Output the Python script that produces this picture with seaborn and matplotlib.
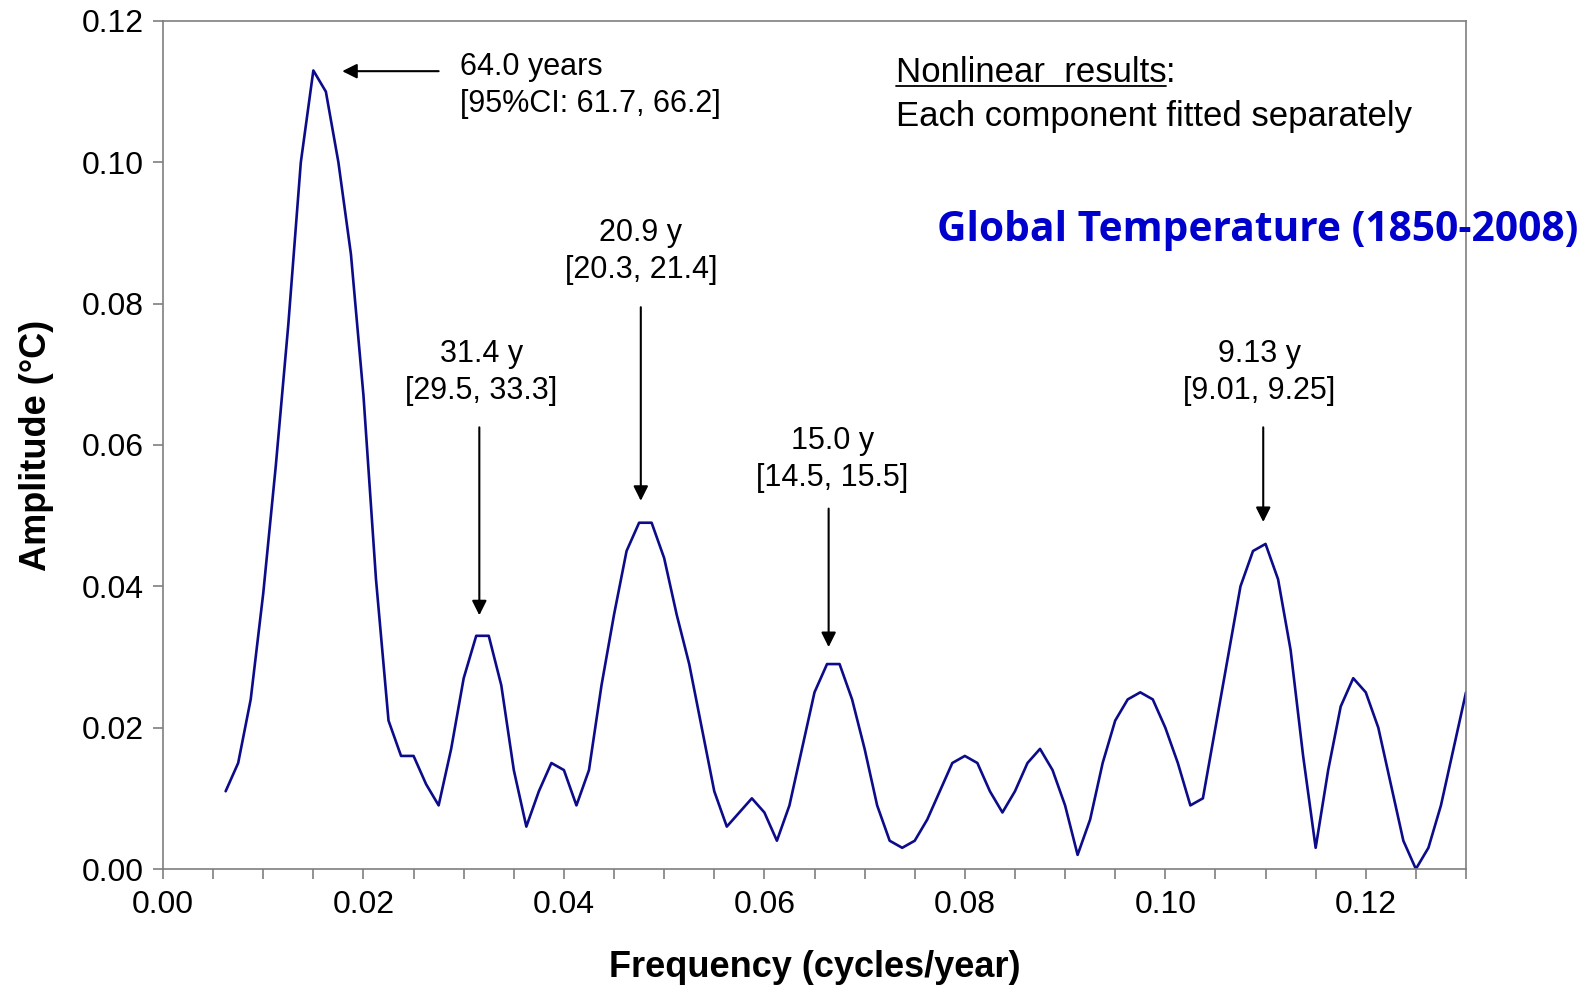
import numpy as np
import pandas as pd
import matplotlib
matplotlib.use("Agg")
import matplotlib.pyplot as plt
import seaborn as sns

# ---------------- data ----------------
frequency = [0.00625, 0.00750, 0.00875, 0.01000, 0.01125, 0.01250, 0.01375, 0.01500, 0.01625, 0.01750,
             0.01875, 0.02000, 0.02125, 0.02250, 0.02375, 0.02500, 0.02625, 0.02750, 0.02875, 0.03000,
             0.03125, 0.03250, 0.03375, 0.03500, 0.03625, 0.03750, 0.03875, 0.04000, 0.04125, 0.04250,
             0.04375, 0.04500, 0.04625, 0.04750, 0.04875, 0.05000, 0.05125, 0.05250, 0.05375, 0.05500,
             0.05625, 0.05750, 0.05875, 0.06000, 0.06125, 0.06250, 0.06375, 0.06500, 0.06625, 0.06750,
             0.06875, 0.07000, 0.07125, 0.07250, 0.07375, 0.07500, 0.07625, 0.07750, 0.07875, 0.08000,
             0.08125, 0.08250, 0.08375, 0.08500, 0.08625, 0.08750, 0.08875, 0.09000, 0.09125, 0.09250,
             0.09375, 0.09500, 0.09625, 0.09750, 0.09875, 0.10000, 0.10125, 0.10250, 0.10375, 0.10500,
             0.10625, 0.10750, 0.10875, 0.11000, 0.11125, 0.11250, 0.11375, 0.11500, 0.11625, 0.11750,
             0.11875, 0.12000, 0.12125, 0.12250, 0.12375, 0.12500, 0.12625, 0.12750, 0.12875, 0.13000]

amplitude = [0.011, 0.015, 0.024, 0.039, 0.057, 0.077, 0.100, 0.113, 0.110, 0.100,
             0.087, 0.067, 0.041, 0.021, 0.016, 0.016, 0.012, 0.009, 0.017, 0.027,
             0.033, 0.033, 0.026, 0.014, 0.006, 0.011, 0.015, 0.014, 0.009, 0.014,
             0.026, 0.036, 0.045, 0.049, 0.049, 0.044, 0.036, 0.029, 0.020, 0.011,
             0.006, 0.008, 0.010, 0.008, 0.004, 0.009, 0.017, 0.025, 0.029, 0.029,
             0.024, 0.017, 0.009, 0.004, 0.003, 0.004, 0.007, 0.011, 0.015, 0.016,
             0.015, 0.011, 0.008, 0.011, 0.015, 0.017, 0.014, 0.009, 0.002, 0.007,
             0.015, 0.021, 0.024, 0.025, 0.024, 0.020, 0.015, 0.009, 0.010, 0.020,
             0.030, 0.040, 0.045, 0.046, 0.041, 0.031, 0.016, 0.003, 0.014, 0.023,
             0.027, 0.025, 0.020, 0.012, 0.004, 0.000, 0.003, 0.009, 0.017, 0.025]

# peak annotations
peak_labels = ["31.4 y", "20.9 y", "15.0 y", "9.13 y"]
peak_ci = ["[29.5, 33.3]", "[20.3, 21.4]", "[14.5, 15.5]", "[9.01, 9.25]"]
peak_freq = [0.03156, 0.04767, 0.06641, 0.10977]
arrow_top = [0.0625, 0.0795, 0.0510, 0.0625]
arrow_tip = [0.0359, 0.0521, 0.0314, 0.0491]
label_x = [0.03175, 0.04767, 0.06680, 0.10940]
label_y1 = [0.0729, 0.0900, 0.0605, 0.0729]
label_y2 = [0.0677, 0.0847, 0.0553, 0.0677]

xticks_major = [0.00, 0.02, 0.04, 0.06, 0.08, 0.10, 0.12]
yticks = [0.00, 0.02, 0.04, 0.06, 0.08, 0.10, 0.12]

df = pd.DataFrame({"Frequency": frequency, "Amplitude": amplitude})

# ---------------- style ----------------
sns.set_theme(style="white")
plt.rcParams["font.family"] = ["Liberation Sans", "DejaVu Sans"]
plt.rcParams["text.color"] = "black"
plt.rcParams["axes.labelcolor"] = "black"

W, H = 1595, 988
fig = plt.figure(figsize=(W / 100, H / 100), dpi=100)
ax = fig.add_axes([163 / W, 1 - 869 / H, (1466 - 163) / W, (869 - 21) / H])

line_color = "#0c0c8a"
sns.lineplot(data=df, x="Frequency", y="Amplitude", ax=ax, color=line_color,
             linewidth=1.9, legend=False)

ax.set_xlim(0, 0.13)
ax.set_ylim(0, 0.12)

for s in ax.spines.values():
    s.set_color("#7f7f7f")
    s.set_linewidth(1.2)
    s.set_visible(True)

ax.set_xticks(xticks_major)
ax.set_xticks(np.arange(0, 0.1301, 0.005), minor=True)
ax.set_xticklabels([f"{v:.2f}" for v in xticks_major])
ax.set_yticks(yticks)
ax.set_yticklabels([f"{v:.2f}" for v in yticks])
ax.tick_params(axis="both", which="both", direction="out", length=7, width=1.2,
               color="#7f7f7f", labelsize=23, labelcolor="black")
ax.tick_params(axis="x", which="both", bottom=True, pad=8)
ax.tick_params(axis="y", which="both", left=True, pad=7)
ax.grid(False)

ax.set_xlabel("Frequency (cycles/year)", fontsize=26, fontweight="bold", labelpad=22)
ax.set_ylabel("Amplitude (°C)", fontsize=26, fontweight="bold", labelpad=20)

arrow_kw = dict(arrowstyle="-|>", color="black", lw=1.5, mutation_scale=22,
                shrinkA=0, shrinkB=0)

ann_fs = 22

# 64.0 years annotation
ax.annotate("", xy=(0.01788, 0.1129), xytext=(0.0275, 0.1129), arrowprops=arrow_kw)
ax.text(0.0296, 0.1135, "64.0 years", fontsize=ann_fs, ha="left", va="center")
ax.text(0.0296, 0.1083, "[95%CI: 61.7, 66.2]", fontsize=ann_fs, ha="left", va="center")

for lab, ci, px, at, tip, lx, ly1, ly2 in zip(peak_labels, peak_ci, peak_freq, arrow_top,
                                             arrow_tip, label_x, label_y1, label_y2):
    ax.annotate("", xy=(px, tip), xytext=(px, at), arrowprops=arrow_kw)
    ax.text(lx, ly1, lab, fontsize=ann_fs, ha="center", va="center")
    ax.text(lx, ly2, ci, fontsize=ann_fs, ha="center", va="center")

note_fs = 25
t1 = ax.text(0.0731, 0.1127, "Nonlinear  results", fontsize=note_fs, ha="left", va="center")
ax.text(0.0731, 0.1065, "Each component fitted separately", fontsize=note_fs, ha="left",
        va="center")

fig.canvas.draw()
bb = t1.get_window_extent()
inv = ax.transData.inverted()
(x0, y0), (x1, y1) = inv.transform([(bb.x0, bb.y0), (bb.x1, bb.y1)])
ax.text(x1, 0.1127, ":", fontsize=note_fs, ha="left", va="center")
ax.plot([x0, x1], [y0 + (y1 - y0) * 0.10] * 2, color="black", lw=1.3, clip_on=False)

ax.text(0.0772, 0.0904, "Global Temperature (1850-2008)", fontsize=29.3, fontweight="bold",
        color="#0000cc", ha="left", va="center", family=["Open Sans", "DejaVu Sans"],
        clip_on=False)

fig.savefig("out.png", dpi=100, facecolor="white")
